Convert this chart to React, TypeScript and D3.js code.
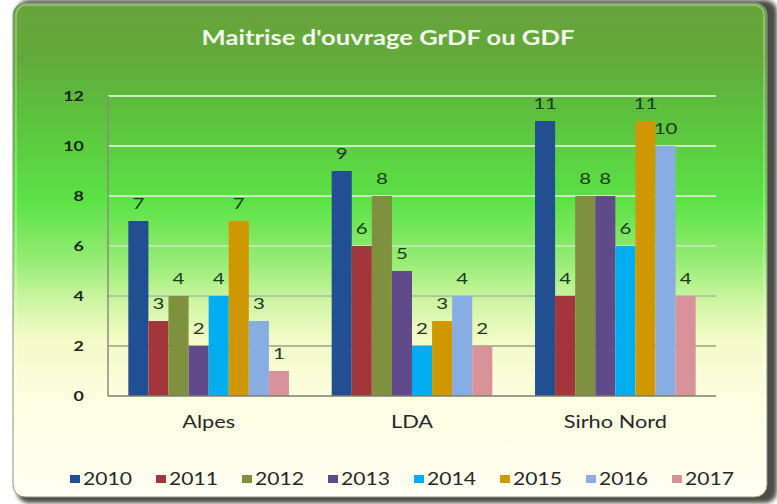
import React, { useEffect, useRef } from 'react';
import * as d3 from 'd3';

const categories = ['Alpes', 'LDA', 'Sirho Nord'];
const years = ['2010', '2011', '2012', '2013', '2014', '2015', '2016', '2017'];
const alpes = [7, 3, 4, 2, 4, 7, 3, 1];
const lda = [9, 6, 8, 5, 2, 3, 4, 2];
const sirhoNord = [11, 4, 8, 8, 6, 11, 10, 4];
const yTicks = [0, 2, 4, 6, 8, 10, 12];
const colors = ['#214f92', '#a3363b', '#7f913f', '#604a8a', '#00adf0', '#cf9800', '#87ade2', '#d8939a'];
const title = "Maitrise d'ouvrage GrDF ou GDF";

const SX = 1.28; // the picture is stretched horizontally
const FONT = 'Lato, "Open Sans", sans-serif';

const App = () => {
  const svgRef = useRef<SVGSVGElement>(null);

  useEffect(() => {
    const width = 777;
    const height = 504;
    const margin = { top: 96, right: 61, bottom: 108, left: 108 };

    d3.select(svgRef.current).selectAll('*').remove();
    const svg = d3.select(svgRef.current)
      .attr('width', width)
      .attr('height', height);

    const defs = svg.append('defs');

    // panel gradient, green at top fading into cream
    const bg = defs.append('linearGradient')
      .attr('id', 'bg')
      .attr('x1', 0).attr('y1', 0).attr('x2', 0).attr('y2', 1);
    [
      [0, '#68a43c'], [0.11, '#62a93a'], [0.22, '#5cc03e'], [0.4, '#5ce245'],
      [0.52, '#94ec72'], [0.6, '#cbf5a0'], [0.68, '#f3fbc6'], [0.8, '#fdfde0'], [1, '#fffff3']
    ].forEach(([o, c]) => bg.append('stop').attr('offset', o).attr('stop-color', c));

    const gridGrad = defs.append('linearGradient')
      .attr('id', 'grid')
      .attr('gradientUnits', 'userSpaceOnUse')
      .attr('x1', 0).attr('y1', margin.top).attr('x2', 0).attr('y2', height - margin.bottom);
    [
      [0, '#f2f7ea'], [0.45, '#eef4e4'], [0.55, '#c8d2b8'], [0.7, '#a8ad98'], [1, '#8e907f']
    ].forEach(([o, c]) => gridGrad.append('stop').attr('offset', o).attr('stop-color', c));

    defs.append('filter')
      .attr('id', 'blur')
      .append('feGaussianBlur')
      .attr('stdDeviation', 2);

    // panel with shadow
    svg.append('rect')
      .attr('x', 17).attr('y', 0)
      .attr('width', 760).attr('height', 503)
      .attr('rx', 12)
      .attr('fill', '#4e4e46')
      .attr('filter', 'url(#blur)');
    svg.append('rect')
      .attr('x', 13).attr('y', 3)
      .attr('width', 754).attr('height', 494)
      .attr('rx', 12)
      .attr('fill', 'url(#bg)')
      .attr('stroke', '#8d9680')
      .attr('stroke-width', 1);
    svg.append('rect')
      .attr('x', 16).attr('y', 5)
      .attr('width', 748).attr('height', 489)
      .attr('rx', 10)
      .attr('fill', 'none')
      .attr('stroke', 'rgba(255,255,255,0.35)')
      .attr('stroke-width', 1.5);

    const stretched = (g, x, y, text) => g.append('text')
      .attr('transform', `translate(${x},${y}) scale(${SX},1)`)
      .style('font-family', FONT)
      .text(text);

    // title
    stretched(svg, 388, 45, title)
      .attr('text-anchor', 'middle')
      .style('font-size', '20px')
      .style('font-weight', 'bold')
      .style('fill', '#f4f8ee');

    // scales
    const x0 = d3.scaleBand()
      .domain(categories)
      .range([margin.left, width - margin.right])
      .paddingInner(0.21)
      .paddingOuter(0.1);
    const x1 = d3.scaleBand()
      .domain(years)
      .range([0, x0.bandwidth()]);
    const y = d3.scaleLinear()
      .domain([0, 12])
      .range([height - margin.bottom, margin.top]);

    // grid lines
    svg.append('g')
      .selectAll('line')
      .data(yTicks.filter(t => t > 0))
      .enter()
      .append('line')
      .attr('x1', margin.left)
      .attr('x2', width - margin.right)
      .attr('y1', d => y(d))
      .attr('y2', d => y(d))
      .attr('stroke', 'url(#grid)')
      .attr('stroke-width', 1.5);

    // y tick labels
    yTicks.forEach(t => {
      stretched(svg, 84, y(t) + 5, String(t))
        .attr('text-anchor', 'end')
        .style('font-size', '14px')
        .style('font-weight', 'bold')
        .style('fill', '#1d261b');
    });

    // bars
    const series = [alpes, lda, sirhoNord];
    const groups = svg.append('g')
      .selectAll('g')
      .data(categories)
      .enter()
      .append('g')
      .attr('transform', d => `translate(${x0(d)},0)`);

    groups.each(function (cat, i) {
      const g = d3.select(this);
      const rows = years.map((yr, j) => ({ yr, value: series[i][j], color: colors[j] }));
      g.selectAll('rect')
        .data(rows)
        .enter()
        .append('rect')
        .attr('x', d => x1(d.yr))
        .attr('y', d => y(d.value))
        .attr('width', x1.bandwidth())
        .attr('height', d => y(0) - y(d.value))
        .attr('fill', d => d.color);
      rows.forEach(d => {
        stretched(g, x1(d.yr) + x1.bandwidth() / 2, y(d.value) - 12, String(d.value))
          .attr('text-anchor', 'middle')
          .style('font-size', '16px')
          .style('fill', '#1c3a1e');
      });
    });

    // axes lines
    svg.append('line')
      .attr('x1', margin.left).attr('x2', margin.left)
      .attr('y1', margin.top).attr('y2', y(0))
      .attr('stroke', '#8a8c7c')
      .attr('stroke-width', 1.5);
    svg.append('line')
      .attr('x1', margin.left).attr('x2', width - margin.right)
      .attr('y1', y(0)).attr('y2', y(0))
      .attr('stroke', '#7c7e70')
      .attr('stroke-width', 1.5);

    // category labels
    categories.forEach(c => {
      stretched(svg, x0(c) + x0.bandwidth() / 2, 428, c)
        .attr('text-anchor', 'middle')
        .style('font-size', '17px')
        .style('fill', '#262626');
    });

    // legend
    const legendX = d3.scaleBand()
      .domain(years)
      .range([70, 758]);
    years.forEach((yr, j) => {
      const lx = legendX(yr);
      svg.append('rect')
        .attr('x', lx).attr('y', 475)
        .attr('width', 10).attr('height', 8)
        .attr('fill', colors[j]);
      stretched(svg, lx + 13, 485, yr)
        .style('font-size', '16.5px')
        .style('fill', '#262626');
    });
  }, []);

  return (
    <div style={{ position: 'absolute', left: 0, top: 0 }}>
      <svg ref={svgRef} style={{ display: 'block' }}></svg>
    </div>
  );
};

export default App;
